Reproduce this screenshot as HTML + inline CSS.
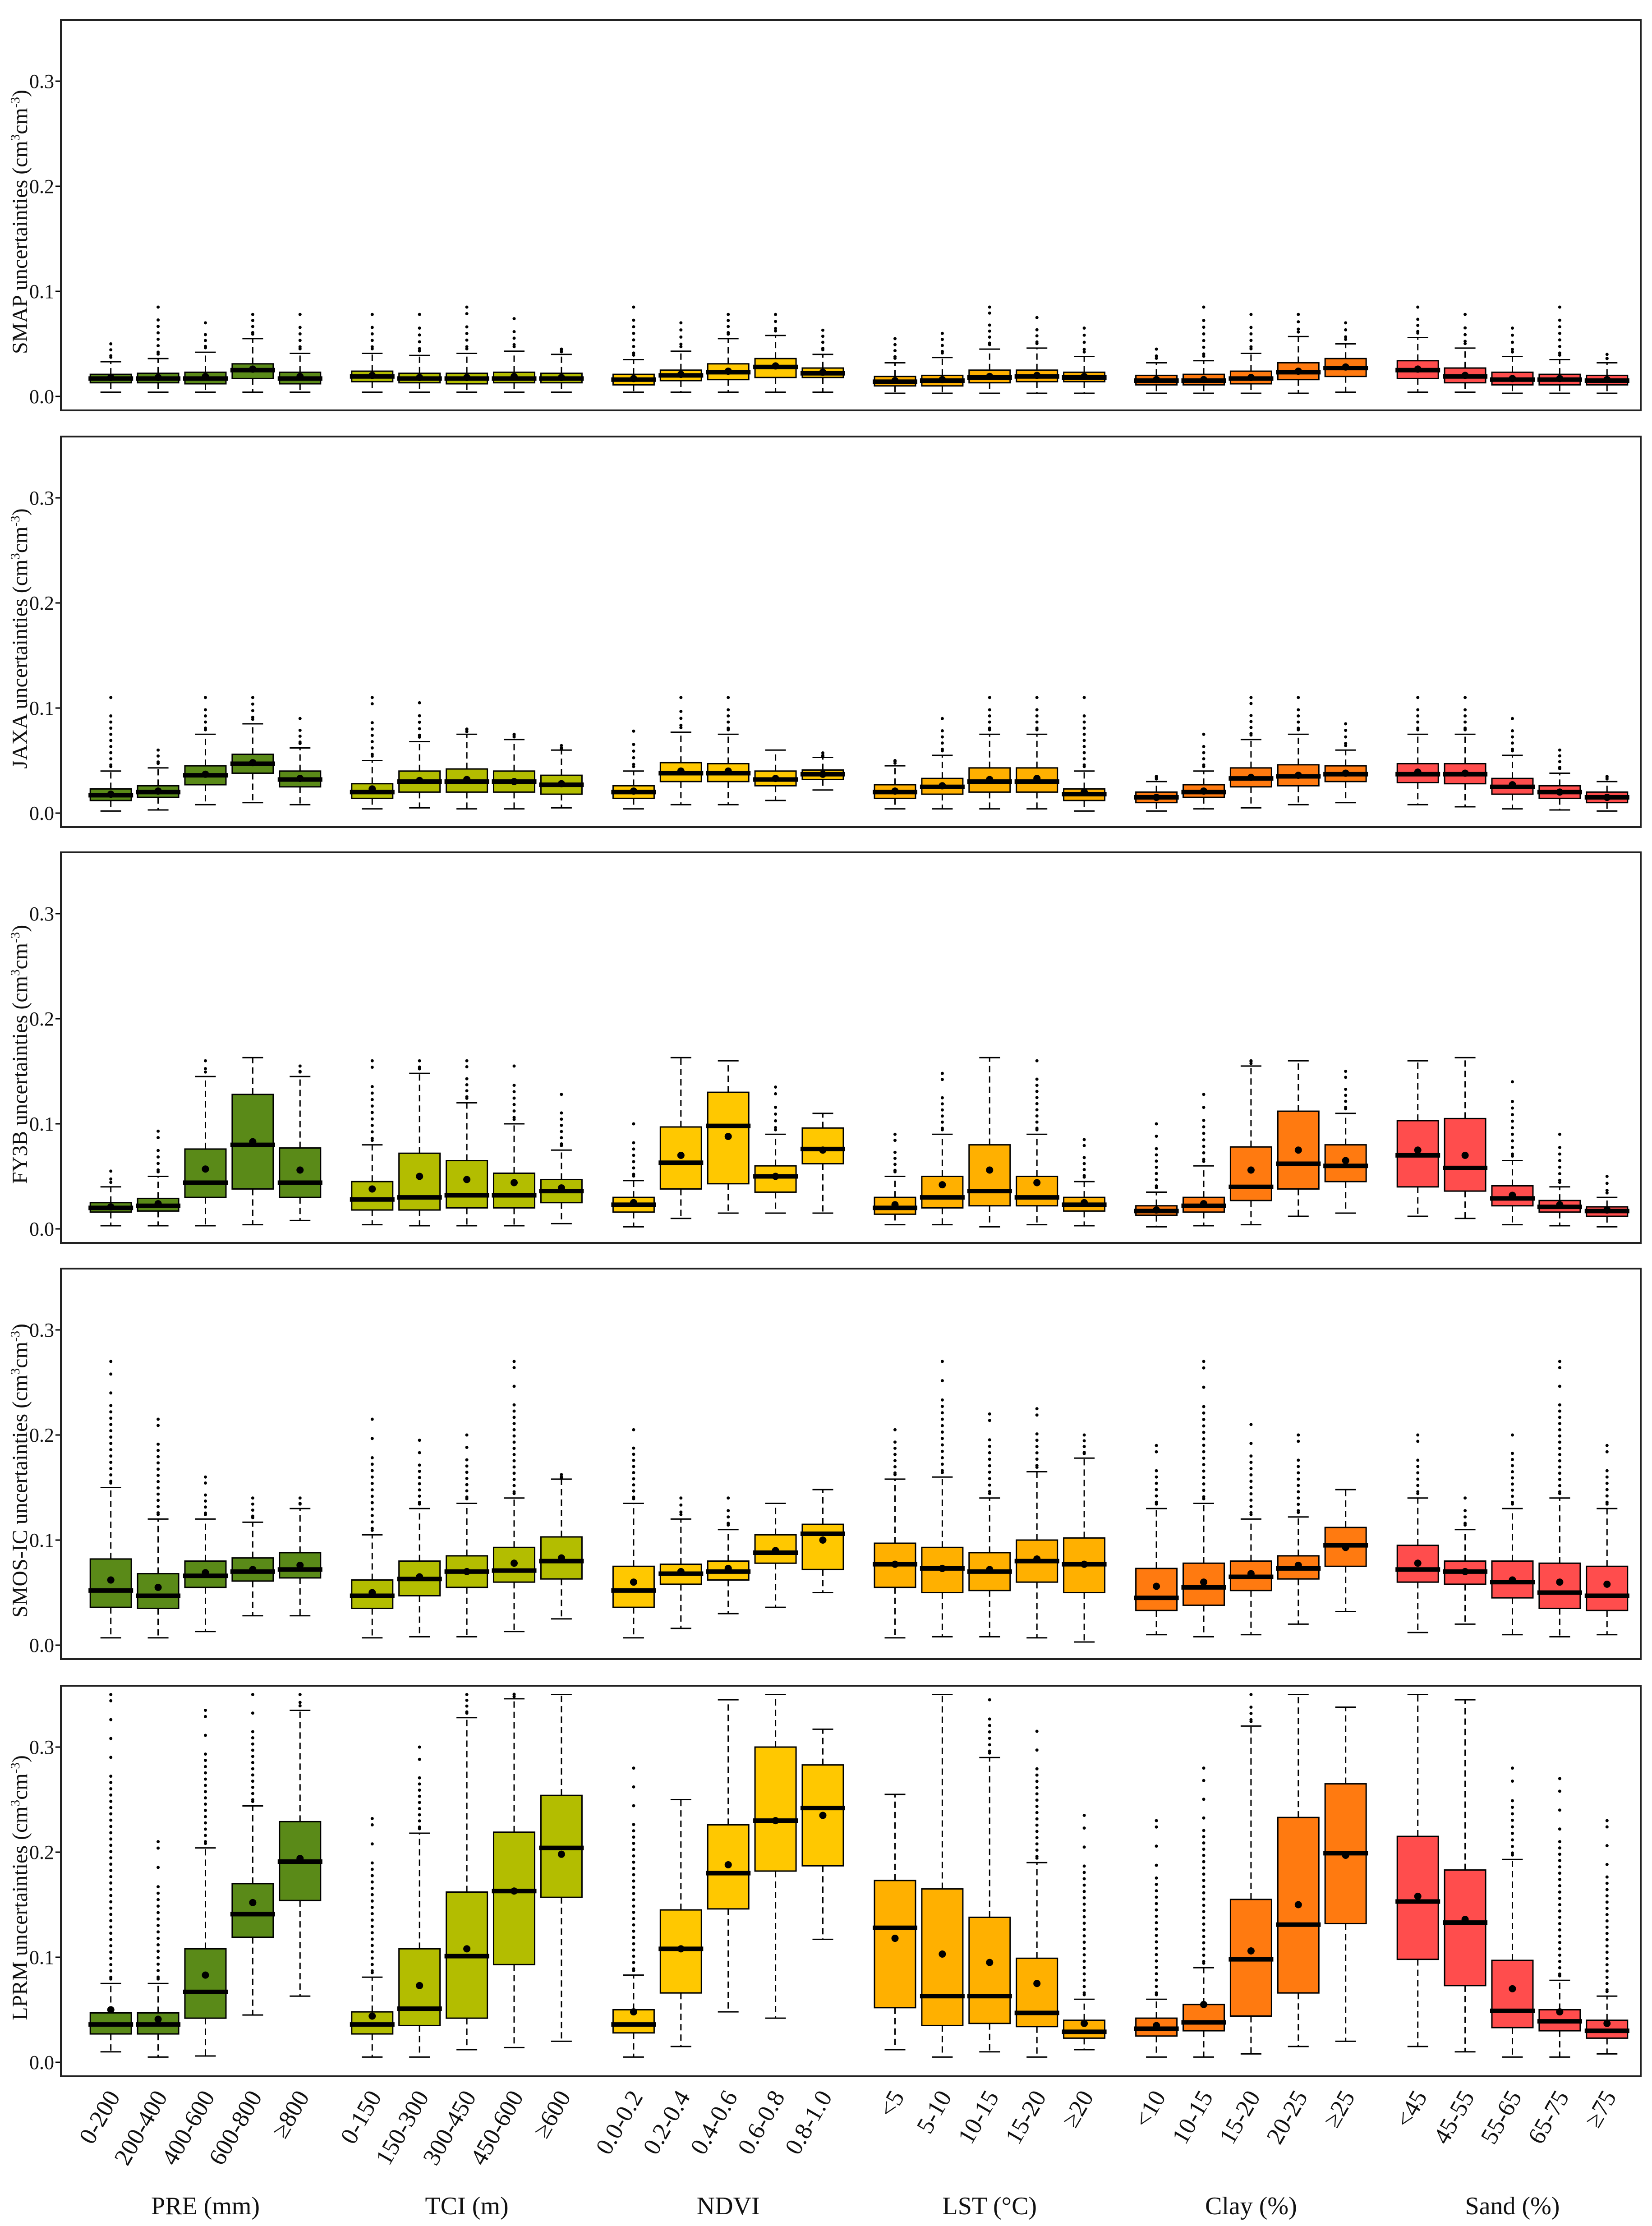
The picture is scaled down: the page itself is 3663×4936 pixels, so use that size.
<!DOCTYPE html>
<html><head><meta charset="utf-8">
<style>
html,body{margin:0;padding:0;background:#fff;}
svg{display:block;font-family:"Liberation Serif",serif;}
</style></head>
<body>
<svg id="chart" width="3663" height="4936" viewBox="0 0 3663 4936" xmlns="http://www.w3.org/2000/svg"></svg>
<script>
const panelNames = ["SMAP","JAXA","FY3B","SMOS-IC","LPRM"];
const groupTitles = ["PRE (mm)","TCI (m)","NDVI","LST (°C)","Clay (%)","Sand (%)"];
const categories = [
 ["0-200","200-400","400-600","600-800","≥800"],
 ["0-150","150-300","300-450","450-600","≥600"],
 ["0.0-0.2","0.2-0.4","0.4-0.6","0.6-0.8","0.8-1.0"],
 ["<5","5-10","10-15","15-20","≥20"],
 ["<10","10-15","15-20","20-25","≥25"],
 ["<45","45-55","55-65","65-75","≥75"]
];
const groupColors = ["#5a8a18","#b3bd00","#ffc800","#ffb000","#ff7a10","#ff4d4d"];
const yTicks = [0.0,0.1,0.2,0.3];

const med = [
 [.017,.017,.017,.025,.017, .019,.017,.017,.017,.017, .016,.020,.023,.028,.022, .014,.015,.018,.019,.018, .015,.015,.017,.023,.027, .025,.019,.016,.016,.015],
 [.017,.020,.036,.047,.032, .020,.030,.030,.030,.027, .020,.038,.038,.032,.037, .020,.025,.030,.030,.018, .015,.020,.033,.035,.037, .037,.037,.025,.020,.015],
 [.020,.022,.044,.080,.044, .028,.030,.032,.032,.036, .023,.063,.098,.050,.076, .020,.030,.036,.030,.023, .017,.022,.040,.062,.060, .070,.058,.029,.021,.017],
 [.052,.047,.066,.070,.072, .047,.063,.070,.071,.080, .052,.068,.070,.088,.106, .077,.073,.070,.080,.077, .045,.055,.065,.073,.095, .072,.070,.060,.050,.047],
 [.036,.036,.067,.141,.191, .036,.051,.101,.163,.204, .036,.108,.180,.230,.242, .128,.063,.063,.047,.029, .032,.038,.098,.131,.199, .153,.133,.049,.039,.030]
];
const q1 = [
 [.013,.013,.012,.017,.012, .014,.013,.012,.013,.013, .011,.015,.016,.018,.018, .010,.010,.013,.014,.014, .011,.011,.012,.016,.019, .017,.013,.011,.011,.011],
 [.012,.015,.027,.038,.025, .014,.020,.020,.020,.018, .014,.030,.030,.026,.032, .014,.018,.020,.020,.012, .010,.015,.025,.026,.030, .029,.028,.018,.014,.010],
 [.016,.017,.030,.038,.030, .018,.018,.020,.020,.025, .016,.038,.043,.035,.062, .014,.020,.022,.022,.017, .013,.016,.027,.038,.045, .040,.036,.022,.016,.012],
 [.036,.035,.055,.061,.064, .035,.047,.055,.060,.063, .036,.058,.062,.078,.072, .055,.050,.052,.060,.050, .033,.038,.052,.063,.075, .060,.058,.045,.035,.033],
 [.027,.027,.042,.119,.154, .027,.035,.042,.093,.157, .028,.066,.146,.182,.187, .052,.035,.037,.034,.023, .025,.030,.044,.066,.132, .098,.073,.033,.030,.023]
];
const q3 = [
 [.021,.022,.023,.031,.023, .024,.022,.022,.023,.022, .021,.025,.031,.036,.027, .019,.020,.025,.025,.023, .020,.021,.024,.032,.036, .034,.027,.023,.021,.020],
 [.023,.026,.045,.056,.040, .028,.040,.042,.040,.036, .026,.048,.047,.040,.041, .027,.033,.043,.043,.023, .020,.027,.043,.046,.045, .047,.047,.033,.026,.020],
 [.025,.029,.076,.128,.077, .045,.072,.065,.053,.047, .030,.097,.130,.060,.096, .030,.050,.080,.050,.030, .022,.030,.078,.112,.080, .103,.105,.041,.027,.021],
 [.082,.068,.080,.083,.088, .062,.080,.085,.093,.103, .075,.077,.080,.105,.115, .097,.093,.088,.100,.102, .073,.078,.080,.085,.112, .095,.080,.080,.078,.075],
 [.047,.047,.108,.170,.229, .048,.108,.162,.219,.254, .050,.145,.226,.300,.283, .173,.165,.138,.099,.040, .042,.055,.155,.233,.265, .215,.183,.097,.050,.040]
];
const whiskerLow = [
 [.004,.004,.004,.004,.004, .004,.004,.004,.004,.004, .004,.004,.004,.004,.004, .003,.003,.003,.003,.003, .003,.003,.003,.003,.004, .004,.004,.003,.003,.003],
 [.002,.003,.008,.010,.008, .004,.005,.004,.004,.005, .004,.008,.008,.012,.022, .004,.004,.004,.004,.002, .002,.004,.005,.008,.010, .008,.006,.004,.003,.002],
 [.003,.003,.003,.004,.008, .004,.003,.003,.003,.005, .002,.010,.015,.015,.015, .004,.004,.002,.004,.003, .002,.003,.004,.012,.015, .012,.010,.004,.003,.002],
 [.007,.007,.013,.028,.028, .007,.008,.008,.013,.025, .007,.016,.030,.036,.050, .007,.008,.008,.007,.003, .010,.008,.010,.020,.032, .012,.020,.010,.008,.010],
 [.010,.005,.006,.045,.063, .005,.005,.012,.014,.020, .005,.015,.048,.042,.117, .012,.005,.010,.005,.012, .005,.005,.008,.015,.020, .015,.010,.005,.005,.008]
];
const whiskerHigh = [
 [.033,.036,.042,.055,.041, .041,.039,.041,.043,.040, .035,.043,.055,.058,.040, .032,.037,.045,.046,.038, .032,.034,.041,.057,.050, .056,.046,.038,.035,.032],
 [.040,.043,.075,.085,.062, .050,.068,.075,.070,.060, .040,.077,.075,.060,.053, .045,.055,.075,.075,.040, .030,.040,.070,.075,.060, .075,.075,.055,.038,.030],
 [.040,.050,.145,.163,.145, .080,.148,.120,.100,.075, .046,.163,.160,.090,.110, .050,.090,.163,.090,.045, .035,.060,.155,.160,.110, .160,.163,.065,.040,.030],
 [.150,.120,.120,.117,.130, .105,.130,.135,.140,.158, .135,.120,.110,.135,.148, .158,.160,.140,.165,.178, .130,.135,.120,.122,.148, .140,.110,.130,.140,.130],
 [.075,.075,.204,.244,.335, .081,.218,.328,.346,.350, .083,.250,.345,.350,.317, .255,.350,.290,.190,.060, .060,.090,.320,.350,.338, .350,.345,.193,.078,.063]
];
const outlierMax = [
 [.050,.085,.070,.078,.078, .078,.078,.085,.074,.045, .085,.070,.078,.078,.063, .055,.060,.085,.075,.065, .045,.085,.078,.078,.070, .085,.078,.065,.085,.040],
 [.110,.060,.110,.110,.090, .110,.105,.080,.075,.062, .078,.110,.110,.060,.055, .050,.090,.110,.110,.110, .035,.075,.110,.110,.085, .110,.110,.090,.060,.035],
 [.055,.093,.160,.163,.155, .160,.160,.160,.155,.128, .100,.163,.160,.135,.110, .090,.148,.163,.160,.085, .100,.128,.160,.160,.150, .160,.163,.140,.090,.050],
 [.270,.215,.160,.140,.140, .215,.195,.200,.270,.160, .205,.140,.140,.135,.148, .205,.270,.220,.225,.200, .190,.270,.210,.200,.148, .200,.140,.200,.270,.190],
 [.350,.210,.335,.350,.350, .232,.300,.350,.350,.350, .280,.250,.345,.350,.317, .255,.350,.345,.315,.235, .230,.280,.350,.350,.338, .350,.345,.280,.270,.230]
];
const meanVal = [
 [.018,.018,.019,.026,.019, .020,.018,.018,.019,.018, .017,.021,.024,.029,.023, .015,.016,.019,.020,.019, .016,.016,.018,.024,.028, .026,.020,.017,.017,.016],
 [.018,.021,.037,.048,.033, .023,.031,.032,.030,.028, .021,.040,.040,.033,.037, .021,.026,.032,.033,.020, .015,.021,.034,.036,.038, .039,.038,.027,.020,.015],
 [.021,.024,.057,.083,.056, .038,.050,.047,.044,.039, .025,.070,.088,.050,.075, .023,.042,.056,.044,.025, .018,.024,.056,.075,.065, .075,.070,.032,.023,.018],
 [.062,.055,.069,.072,.076, .050,.065,.070,.078,.083, .060,.070,.073,.090,.100, .077,.073,.072,.082,.077, .056,.060,.068,.076,.093, .078,.070,.062,.060,.058],
 [.050,.041,.083,.152,.194, .044,.073,.108,.163,.198, .048,.108,.188,.230,.235, .118,.103,.095,.075,.037, .035,.055,.106,.150,.197, .158,.136,.070,.048,.037]
];

const svg = document.getElementById('chart');
const NS = "http://www.w3.org/2000/svg";
function mk(tag, attrs, parent){const e=document.createElementNS(NS,tag);for(const k in attrs)e.setAttribute(k,attrs[k]);(parent||svg).appendChild(e);return e;}
const K = 3.15;
const plotLeft = 135, plotRight = 3638, panelH = 866;
const panelTops = [44, 968, 1890, 2813, 3738];
const zeroOff = 835, unitPx = 2330;
function xCenter(g,i){return (78 + 184*g + 33.3*i)*K;}
const boxW = 91;

panelNames.forEach((pn,p)=>{
  const top = panelTops[p];
  const yScale = v => top + zeroOff - v*unitPx;
  const pg = mk('g',{});
  
  
  yTicks.forEach(t=>{
    const y = yScale(t);
    const tk = mk('line',{x1:plotLeft-12,x2:plotLeft,y1:y,y2:y,stroke:'#000','stroke-width':3},pg);
    
    
    const tl = mk('text',{x:plotLeft-15,y:y+15,'font-size':44,'text-anchor':'end',fill:'#111'},pg);
    tl.textContent = t.toFixed(1);
    
    
  });
  const yt = mk('text',{transform:`translate(60,${top+panelH/2+15}) rotate(-90)`,'font-size':48,'text-anchor':'middle',fill:'#111'},pg);
  yt.innerHTML = pn + ' uncertainties (cm<tspan dy="-17" font-size="29">3</tspan><tspan dy="17">cm</tspan><tspan dy="-17" font-size="29">-3</tspan><tspan dy="17">)</tspan>';
  
  
  for(let g=0; g<6; g++){
    for(let i=0;i<5;i++){
      const idx = g*5+i;
      const cx = xCenter(g,i);
      const bg = mk('g',{},pg);
      
      
      const yq1=yScale(q1[p][idx]), yq3=yScale(q3[p][idx]), ym=yScale(med[p][idx]);
      const ylo=yScale(whiskerLow[p][idx]), yhi=yScale(whiskerHigh[p][idx]);
      mk('line',{x1:cx,x2:cx,y1:yq3,y2:yhi,stroke:'#000','stroke-width':3,'stroke-dasharray':'14,9'},bg);
      mk('line',{x1:cx,x2:cx,y1:yq1,y2:ylo,stroke:'#000','stroke-width':3,'stroke-dasharray':'14,9'},bg);
      mk('line',{x1:cx-23,x2:cx+23,y1:yhi,y2:yhi,stroke:'#000','stroke-width':3},bg);
      mk('line',{x1:cx-23,x2:cx+23,y1:ylo,y2:ylo,stroke:'#000','stroke-width':3},bg);
      const omax = outlierMax[p][idx], hi = whiskerHigh[p][idx];
      if(omax > hi + 0.001){
        const n = Math.max(2, Math.round((omax-hi)*unitPx/14));
        for(let k=0;k<=n;k++){
          const frac = k/n;
          if(frac<0.7 || k%3===0 || k===n){
            mk('circle',{cx:cx,cy:yScale(hi + (omax-hi)*frac)-(k===0?10:0),r:3.5,fill:'#000'},bg);
          }
        }
      }
      mk('rect',{x:cx-boxW/2,y:yq3,width:boxW,height:Math.max(2,yq1-yq3),fill:groupColors[g],stroke:'#000','stroke-width':3},bg);
      mk('line',{x1:cx-boxW/2-4,x2:cx+boxW/2+4,y1:ym,y2:ym,stroke:'#000','stroke-width':10},bg);
      mk('circle',{cx:cx,cy:yScale(meanVal[p][idx]),r:8,fill:'#000'},bg);
    }
  }
  const fr = mk('rect',{x:plotLeft,y:top,width:plotRight-plotLeft,height:panelH,fill:'none',stroke:'#222','stroke-width':4},pg);
  
  
});

const lastBottom = panelTops[4] + panelH;
for(let g=0; g<6; g++){
  for(let i=0;i<5;i++){
    const cx = xCenter(g,i);
    const t = mk('text',{transform:`translate(${cx+22},${lastBottom+45}) rotate(-60)`,'font-size':54,'text-anchor':'end',fill:'#111'});
    t.textContent = categories[g][i];
    
    
  }
  const gt = mk('text',{x:(xCenter(g,0)+xCenter(g,4))/2,y:4910,'font-size':56,'text-anchor':'middle',fill:'#111'});
  gt.textContent = groupTitles[g];
  
  
}
</script>
</body></html>
